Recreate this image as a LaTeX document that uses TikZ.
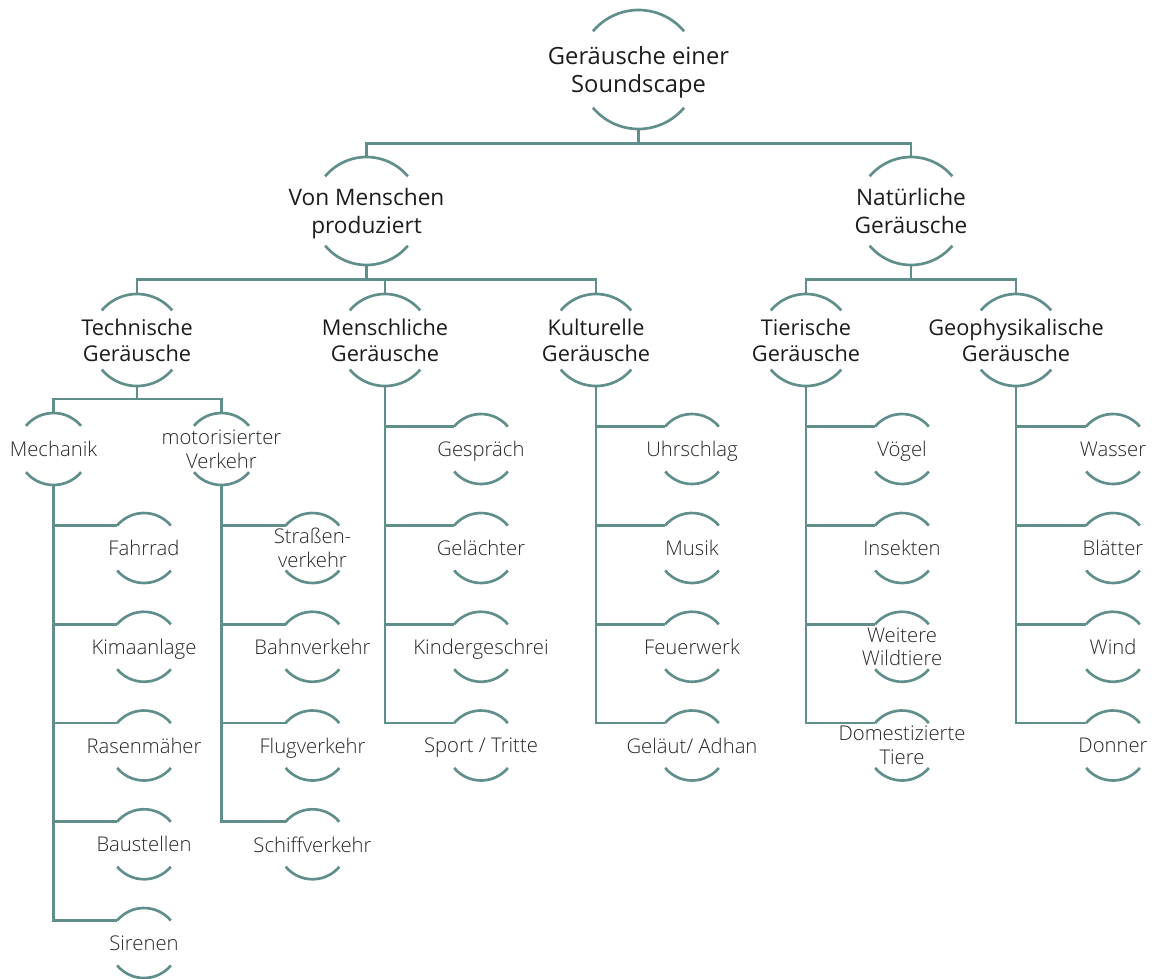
\documentclass[tikz,border=0pt]{standalone}
\usepackage{fontspec}
\setmainfont{Open Sans}
\newfontfamily\lightfont{Open Sans Light}
\definecolor{linkteal}{HTML}{5F8E8B}
\definecolor{inkdark}{HTML}{1C1C1C}
\definecolor{inkleaf}{HTML}{262626}

\tikzset{
  link/.style={draw=linkteal, line width=2pt},
  ring/.style={circle, inner sep=0pt, outer sep=0pt},
  toptext/.style={inner sep=0pt, align=center, text depth=0pt, text=inkdark,
    font=\fontsize{17.8}{21.3}\selectfont},
  midtext/.style={inner sep=0pt, align=center, text depth=0pt, text=inkdark,
    font=\fontsize{17.0}{20.5}\selectfont},
  subtext/.style={inner sep=0pt, align=center, text depth=0pt, text=inkdark,
    font=\fontsize{16.3}{19.5}\selectfont},
  leaftext/.style={inner sep=0pt, align=center, text depth=0pt, text=inkleaf,
    font=\lightfont\fontsize{15.2}{17.8}\selectfont},
}

% #1 name, #2 x, #3 y (downwards), #4 radius, #5 text style, #6 text
\newcommand\gnode[6]{%
  \node[ring, minimum size={#4*1.5pt}] (#1) at (#2,-#3) {};
  \node[#5] (#1-label) at (#1.center) {#6};
  \draw[link] (#1.40) arc[start angle=40, end angle=140, radius={#4*0.75pt}];
  \draw[link] (#1.220) arc[start angle=220, end angle=320, radius={#4*0.75pt}];
}

\begin{document}
\begin{tikzpicture}[x=0.75pt, y=0.75pt]
\useasboundingbox (0,0) rectangle (1152,-978);

% upper levels
\gnode{root}{638.5}{69.5}{59.5}{toptext}{Geräusche einer\\Soundscape}
\gnode{men}{366.5}{211}{54}{midtext}{Von Menschen\\produziert}
\gnode{nat}{911}{211}{54}{midtext}{Natürliche\\Geräusche}

\gnode{tech}{137}{340}{46}{subtext}{Technische\\Geräusche}
\gnode{mensch}{385}{340}{46}{subtext}{Menschliche\\Geräusche}
\gnode{kult}{596}{340}{46}{subtext}{Kulturelle\\Geräusche}
\gnode{tier}{806}{340}{46}{subtext}{Tierische\\Geräusche}
\gnode{geo}{1016}{340}{46}{subtext}{Geophysikalische\\Geräusche}

\gnode{mech}{53.5}{449}{36}{leaftext}{Mechanik}
\gnode{motor}{221.5}{449}{36}{leaftext}{motorisierter\\Verkehr}

% leaves
\gnode{fahrrad}{144}{548}{35}{leaftext}{Fahrrad}
\gnode{klima}{144}{646.75}{35}{leaftext}{Kimaanlage}
\gnode{rasen}{144}{745.5}{35}{leaftext}{Rasenmäher}
\gnode{bau}{144}{844.25}{35}{leaftext}{Baustellen}
\gnode{sirenen}{144}{943}{35}{leaftext}{Sirenen}

\gnode{strasse}{312.5}{548}{35}{leaftext}{Straßen-\\verkehr}
\gnode{bahn}{312.5}{646.75}{35}{leaftext}{Bahnverkehr}
\gnode{flug}{312.5}{745.5}{35}{leaftext}{Flugverkehr}
\gnode{schiff}{312.5}{844.25}{35}{leaftext}{Schiffverkehr}

\gnode{gespraech}{481}{449}{35}{leaftext}{Gespräch}
\gnode{lachen}{481}{548}{35}{leaftext}{Gelächter}
\gnode{kinder}{481}{646.75}{35}{leaftext}{Kindergeschrei}
\gnode{sport}{481}{745.5}{35}{leaftext}{Sport / Tritte}

\gnode{uhr}{692}{449}{35}{leaftext}{Uhrschlag}
\gnode{musik}{692}{548}{35}{leaftext}{Musik}
\gnode{feuer}{692}{646.75}{35}{leaftext}{Feuerwerk}
\gnode{glocke}{692}{745.5}{35}{leaftext}{Geläut/ Adhan}

\gnode{voegel}{902}{449}{35}{leaftext}{Vögel}
\gnode{insekten}{902}{548}{35}{leaftext}{Insekten}
\gnode{wild}{902}{646.75}{35}{leaftext}{Weitere\\Wildtiere}
\gnode{haus}{902}{745.5}{35}{leaftext}{Domestizierte\\Tiere}

\gnode{wasser}{1113}{449}{35}{leaftext}{Wasser}
\gnode{blatt}{1113}{548}{35}{leaftext}{Blätter}
\gnode{wind}{1113}{646.75}{35}{leaftext}{Wind}
\gnode{donner}{1113}{745.5}{35}{leaftext}{Donner}

% bar connectors between levels
\draw[link] (root.south) -- ++(0,-14.5) -| (men.north);
\draw[link] (root.south) -- ++(0,-14.5) -| (nat.north);
\draw[link] (men.south) -- ++(0,-14.5) -| (tech.north);
\draw[link] (men.south) -- ++(0,-14.5) -| (mensch.north);
\draw[link] (men.south) -- ++(0,-14.5) -| (kult.north);
\draw[link] (nat.south) -- ++(0,-14.5) -| (tier.north);
\draw[link] (nat.south) -- ++(0,-14.5) -| (geo.north);
\draw[link] (tech.south) -- ++(0,-13) -| (mech.north);
\draw[link] (tech.south) -- ++(0,-13) -| (motor.north);

% trunk connectors to leaves
\foreach \p/\c in {mech/fahrrad, mech/klima, mech/rasen, mech/bau, mech/sirenen,
    motor/strasse, motor/bahn, motor/flug, motor/schiff,
    mensch/gespraech, mensch/lachen, mensch/kinder, mensch/sport,
    kult/uhr, kult/musik, kult/feuer, kult/glocke,
    tier/voegel, tier/insekten, tier/wild, tier/haus,
    geo/wasser, geo/blatt, geo/wind, geo/donner}
  \draw[link] (\p.south) |- (\c.140);
\end{tikzpicture}
\end{document}
